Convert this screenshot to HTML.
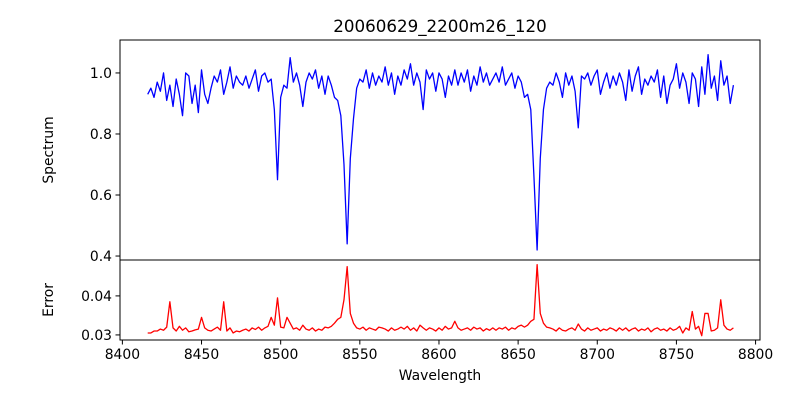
<!DOCTYPE html>
<html><head><meta charset="utf-8"><style>body{margin:0;background:#fff}svg{display:block;font-family:"DejaVu Sans","Liberation Sans",sans-serif}</style></head>
<body>
<svg id="chart" width="800" height="400" viewBox="0 0 800 400"></svg>
<script>
const wlStart = 8416;
const wlStep = 2;
const spectrum = [
0.93,0.95,0.92,0.97,0.94,1.00,0.91,0.96,0.89,0.98,
0.93,0.86,1.00,0.99,0.90,0.96,0.87,1.01,0.93,0.90,
0.95,0.99,0.97,1.01,0.93,0.97,1.02,0.95,0.99,0.97,
0.96,0.99,0.95,0.98,1.01,0.94,0.99,1.00,0.97,0.98,
0.88,0.65,0.92,0.96,0.95,1.05,0.97,1.00,0.96,0.89,
0.97,1.00,0.98,1.01,0.95,0.99,0.93,0.99,0.96,0.92,
0.91,0.86,0.70,0.44,0.72,0.85,0.95,0.98,0.97,1.01,
0.95,1.00,0.96,0.99,0.97,1.02,0.96,1.00,0.93,0.99,
0.96,1.01,0.98,1.03,0.96,1.00,0.97,0.88,1.01,0.98,
1.00,0.94,1.00,0.98,0.92,0.99,0.96,1.01,0.96,1.00,
0.97,1.01,0.94,0.99,0.96,1.02,0.97,1.00,0.96,0.98,
1.00,0.97,1.02,0.96,0.98,1.00,0.95,0.99,0.97,0.92,
0.93,0.88,0.66,0.42,0.72,0.88,0.95,0.97,0.96,1.00,
0.97,0.92,1.00,0.96,0.99,0.94,0.82,0.99,0.98,1.00,
0.96,0.99,1.01,0.93,0.97,1.00,0.95,0.99,0.96,1.00,
0.97,0.91,1.01,0.94,0.99,1.02,0.93,0.98,0.96,0.99,
0.97,1.01,0.92,0.99,0.90,0.96,0.98,1.03,0.95,1.00,
0.97,0.90,1.00,0.98,0.89,1.02,0.93,1.06,0.95,0.99,
0.91,1.04,0.96,0.99,0.90,0.96];
const errors = [
.0305,.0305,.031,.031,.0315,.0312,.032,.0385,.0318,.031,
.0322,.0312,.0318,.0308,.031,.0313,.0315,.0345,.0318,.0312,
.031,.0315,.032,.0312,.0385,.031,.0318,.0305,.031,.0308,
.0312,.0315,.031,.0318,.0314,.032,.0312,.0318,.0322,.0345,
.0325,.0395,.032,.0318,.0345,.033,.0315,.0318,.0312,.0325,
.0315,.0312,.0318,.031,.0315,.0312,.032,.0318,.0322,.033,
.034,.0345,.039,.0475,.0355,.033,.0318,.0315,.032,.0312,
.0318,.0315,.0312,.032,.0318,.0315,.031,.0318,.0312,.0315,
.032,.0315,.0322,.0312,.0318,.031,.0325,.0318,.0312,.0318,
.0315,.031,.0318,.0312,.0322,.0315,.0318,.0335,.0318,.0312,
.0315,.0318,.0312,.032,.0315,.0318,.031,.0316,.0312,.0318,
.0312,.0318,.0315,.032,.0312,.0318,.0315,.0322,.0325,.032,
.0325,.0335,.034,.048,.0355,.033,.032,.0318,.0315,.031,
.0318,.0312,.031,.0315,.0318,.0312,.0328,.0315,.031,.0318,
.0312,.0315,.0318,.031,.0315,.0312,.0318,.0315,.031,.0318,
.0312,.0318,.031,.0315,.0318,.031,.0315,.0312,.0318,.0308,
.0315,.0318,.0312,.0315,.031,.0318,.0312,.0315,.0322,.0305,
.0318,.0312,.036,.0315,.0322,.0298,.0355,.0355,.031,.0312,
.0318,.039,.0325,.0315,.0312,.0318];
const xTicks = [8400,8450,8500,8550,8600,8650,8700,8750,8800];
const specTicks = [0.4,0.6,0.8,1.0];
const errTicks = [0.03,0.04];

const NS="http://www.w3.org/2000/svg";
const svg=document.getElementById('chart');
const L=120,R=760,T1=40,B1=260,T2=260,B2=340;
const X=v=>L+(v-8398.5)/(8802.8-8398.5)*(R-L);
const Y1=v=>B1-(v-0.387)/(1.108-0.387)*(B1-T1);
const Y2=v=>B2-(v-0.0287)/(0.0492-0.0287)*(B2-T2);
function mk(tag,attrs,parent){const e=document.createElementNS(NS,tag);for(const k in attrs)e.setAttribute(k,attrs[k]);(parent||svg).appendChild(e);return e;}
function txt(s,attrs){const e=mk('text',attrs);e.textContent=s;return e;}

function line(arr,Y,color,name){
  const p=arr.map((v,i)=>(i?'L':'M')+X(wlStart+i*wlStep).toFixed(2)+','+Y(v).toFixed(2)).join('');
  const e=mk('path',{d:p,fill:'none',stroke:color,'stroke-width':1.3,'stroke-linejoin':'round'});
  
  
}
line(spectrum,Y1,'#0000ff','spectrum-line');
line(errors,Y2,'#ff0000','error-line');

mk('rect',{x:L,y:T1,width:R-L,height:B1-T1,fill:'none',stroke:'#000','stroke-width':1,});
mk('rect',{x:L,y:T2,width:R-L,height:B2-T2,fill:'none',stroke:'#000','stroke-width':1,});

xTicks.forEach(v=>{
  const x=X(v);
  const t=mk('line',{x1:x,x2:x,y1:B2,y2:B2+4.5,stroke:'#000'});
  
  
  const l=txt(v,{x:x,y:B2+19,'text-anchor':'middle','font-size':13.9});
  
  
});
specTicks.forEach(v=>{
  const y=Y1(v);
  const t=mk('line',{x1:L-4.5,x2:L,y1:y,y2:y,stroke:'#000'});
  
  
  const l=txt(v.toFixed(1),{x:L-8,y:y+5,'text-anchor':'end','font-size':13.9});
  
  
});
errTicks.forEach(v=>{
  const y=Y2(v);
  const t=mk('line',{x1:L-4.5,x2:L,y1:y,y2:y,stroke:'#000'});
  
  
  const l=txt(v.toFixed(2),{x:L-8,y:y+5,'text-anchor':'end','font-size':13.9});
  
  
});
txt('20060629_2200m26_120',{x:440,y:32,'text-anchor':'middle','font-size':16.7,});
txt('Wavelength',{x:440,y:380,'text-anchor':'middle','font-size':13.9,});
txt('Spectrum',{x:0,y:0,transform:'translate(53,150) rotate(-90)','text-anchor':'middle','font-size':13.9,});
txt('Error',{x:0,y:0,transform:'translate(53,300) rotate(-90)','text-anchor':'middle','font-size':13.9,});
</script>
</body></html>
